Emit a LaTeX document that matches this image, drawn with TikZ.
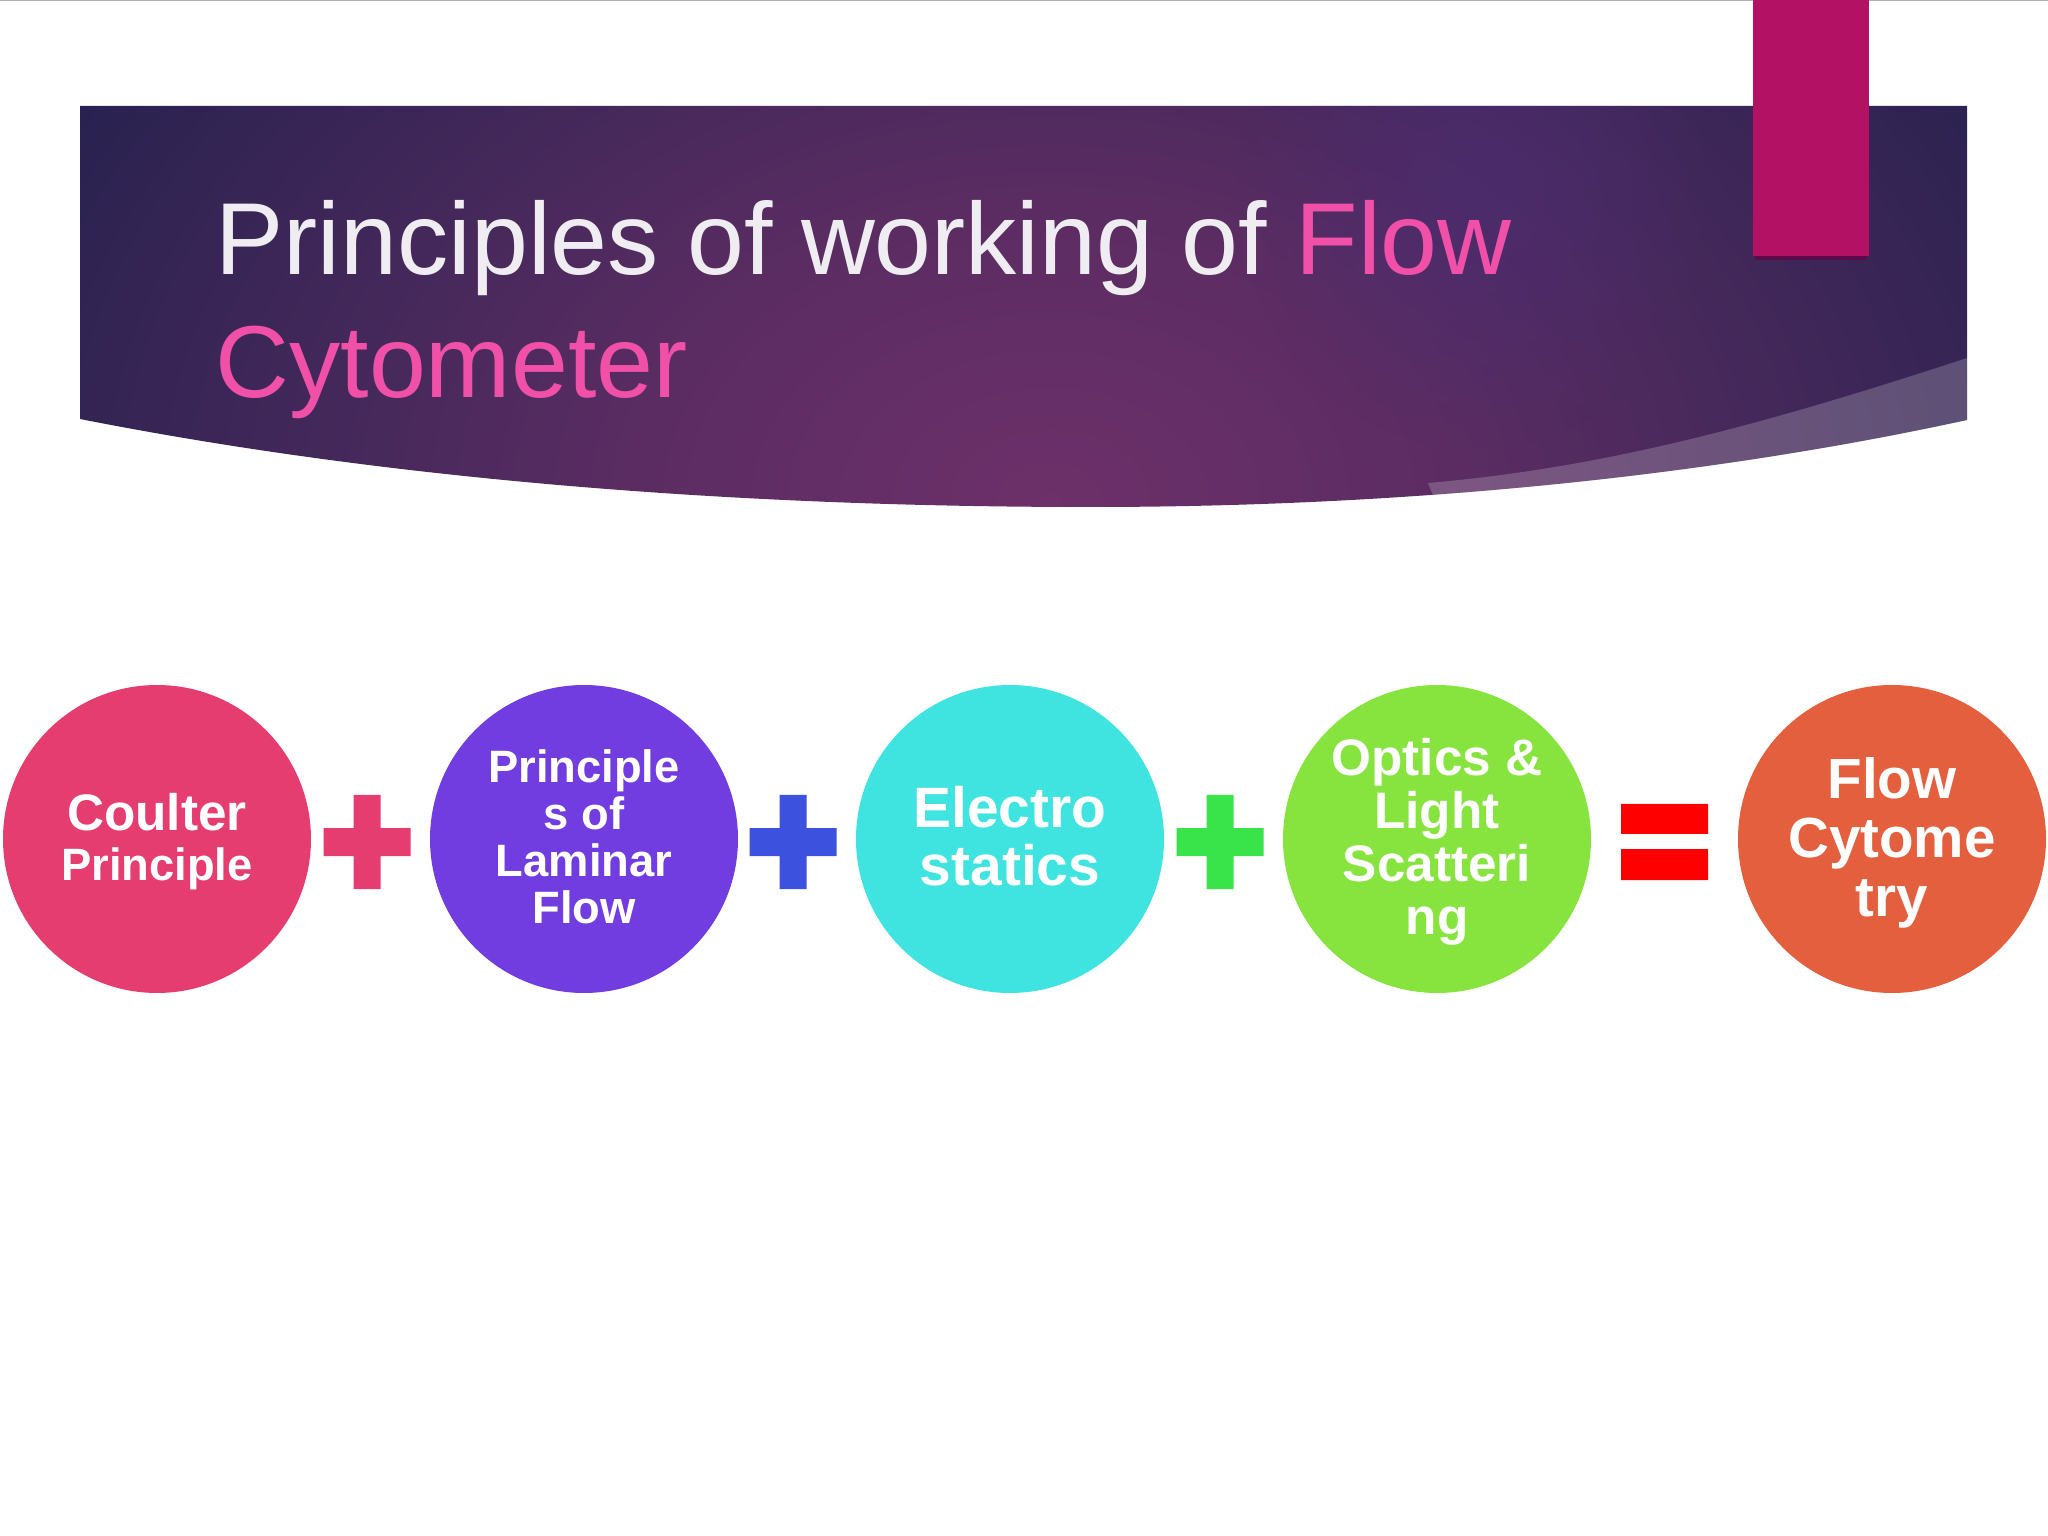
\documentclass[tikz,border=0pt]{standalone}
\usepackage{fontspec}
\setmainfont{Liberation Sans}
\usetikzlibrary{fadings}
\definecolor{rosec}{HTML}{E53D70}
\definecolor{violetc}{HTML}{713DE0}
\definecolor{cyanc}{HTML}{3FE3DF}
\definecolor{limec}{HTML}{87E43F}
\definecolor{orangec}{HTML}{E45F3D}
\definecolor{blueplus}{HTML}{3C52DF}
\definecolor{greenplus}{HTML}{38E44A}
\definecolor{titlepink}{HTML}{F050A8}
\definecolor{titlewhite}{HTML}{EFEDF2}
\definecolor{ribbon}{HTML}{B31264}
\definecolor{ribbonedge}{HTML}{5C0B4A}
\definecolor{spot}{HTML}{4C2C72}
\definecolor{glowa}{HTML}{6D3069}
\definecolor{glowb}{HTML}{5A2C62}
\definecolor{glowc}{HTML}{43285A}
\definecolor{glowd}{HTML}{2A2250}
\definecolor{glowe}{HTML}{241F4D}
\pgfdeclareradialshading{bannerglow}{\pgfpoint{0bp}{0bp}}{%
  color(0bp)=(glowa); color(10bp)=(glowb); color(17.6bp)=(glowc);
  color(26bp)=(glowd); color(28bp)=(glowe); color(80bp)=(glowe)}
\tikzfading[name=spotfade, inner color=transparent!30, outer color=transparent!100]
\newcommand{\bannerpath}{(0.80,-1.06) -- (19.67,-1.06) -- (19.67,-4.20)
  .. controls (17.00,-4.78) and (14.00,-5.07) .. (10.90,-5.07)
  .. controls (7.50,-5.07) and (4.00,-4.82) .. (0.80,-4.19) -- cycle}
\newcommand{\lift}[1]{\rule[-#1]{0pt}{#1}}
\newcommand{\drop}[1]{\rule{0pt}{#1}}
\tikzset{
  bubble/.style={circle, minimum size=3.08cm, inner sep=0pt, align=center, text=white},
  titleline/.style={anchor=base west, inner sep=0pt, font=\fontsize{29.1}{35}\selectfont},
}
\begin{document}
\begin{tikzpicture}
  \useasboundingbox (0,0) rectangle (20.48,-15.36);
  \fill[white] (0,0) rectangle (20.48,-15.36);
  \fill[black!30] (0,0) rectangle (20.48,-.015); % top line
  % banner
  \begin{scope}
    \clip \bannerpath;
    \shade[shading=bannerglow] (0,-12.5) rectangle (21,2.5);
    \fill[spot, path fading=spotfade] (14.76,-1.9) ellipse (2.4 and 2.6);
    \fill[white, opacity=.2] (14.28,-4.83) .. controls (16.00,-4.68) and (17.54,-4.28) .. (19.67,-3.58)
      -- (19.67,-5.3) -- (14.43,-5.2) -- cycle;
  \end{scope}
  % ribbon
  \fill[ribbonedge] (17.55,0) rectangle (18.67,-2.60);
  \fill[ribbon] (17.53,0) rectangle (18.69,-2.56);
  % title
  \node[titleline, text=titlewhite] (title1) at (2.15,-2.75)
    {Principles of working of \textcolor{titlepink}{Flow}};
  \node[titleline, text=titlepink] (title2) at (2.15,-3.98) {Cytometer};
  % circles
  \node[bubble, fill=rosec] (coulter) at (1.57,-8.39)
    {\fontsize{14.6}{13.1}\selectfont\bfseries\drop{12.2pt}Coulter\\[2.2pt]\fontsize{12.9}{13.1}\selectfont\bfseries Principle};
  \node[bubble, fill=violetc, font=\fontsize{12.9}{13.37}\selectfont\bfseries] (laminar) at (5.84,-8.39)
    {Principle\\s of\\Laminar\\Flow\lift{1.14pt}};
  \node[bubble, fill=cyanc, font=\fontsize{16.2}{16.5}\selectfont\bfseries] (electro) at (10.10,-8.39)
    {Electro\\statics\lift{1.7pt}};
  \node[bubble, fill=limec, font=\fontsize{14.6}{15.08}\selectfont\bfseries] (optics) at (14.37,-8.39)
    {\drop{12.4pt}Optics \&\\Light\\Scatteri\\ng};
  \node[bubble, fill=orangec, font=\fontsize{16.1}{16.79}\selectfont\bfseries] (flow) at (18.92,-8.39)
    {\drop{14pt}Flow\\Cytome\\try};
  % plus signs
  \foreach \x/\c in {3.67/rosec,7.93/blueplus,12.20/greenplus}{
    \fill[\c, shift={(\x,-8.42)}] (-.435,-.14) rectangle (.435,.14) (-.135,-.47) rectangle (.135,.47);
  }
  % equals sign
  \fill[red] (16.21,-8.04) rectangle (17.08,-8.34) (16.21,-8.49) rectangle (17.08,-8.80);
\end{tikzpicture}
\end{document}
